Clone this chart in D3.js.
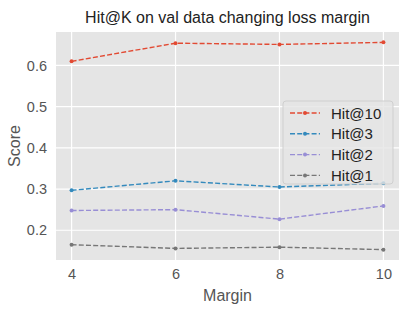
<!DOCTYPE html>
<html>
<head>
<meta charset="utf-8">
<script src="https://cdn.jsdelivr.net/npm/d3@7"></script>
<style>
  body { margin: 0; background: #fff; }
  text { font-family: "Liberation Sans", Arial, sans-serif; }
</style>
</head>
<body>
<div id="chart"></div>
<script>
// data
const margins = [4, 6, 8, 10];
const hit10 = [0.610, 0.654, 0.651, 0.656];
const hit3 = [0.297, 0.320, 0.305, 0.314];
const hit2 = [0.248, 0.250, 0.227, 0.259];
const hit1 = [0.165, 0.156, 0.159, 0.153];
const seriesNames = ['Hit@10', 'Hit@3', 'Hit@2', 'Hit@1'];
const seriesColors = ['#E24A33', '#348ABD', '#988ED5', '#777777'];
const yTicks = [0.2, 0.3, 0.4, 0.5, 0.6];

const width = 417, height = 312;
const plot = {left: 56, right: 399, top: 32, bottom: 260};
const fontFam = '"Liberation Sans", Arial, sans-serif';

const svg = d3.select('#chart').append('svg')
  .attr('width', width).attr('height', height);

const series = [hit10, hit3, hit2, hit1].map((vals, i) => ({
  name: seriesNames[i], color: seriesColors[i],
  values: vals.map((v, j) => ({x: margins[j], y: v}))
}));

// scales (matplotlib style 5% padding)
const allY = [].concat(hit10, hit3, hit2, hit1);
const yMin = d3.min(allY), yMax = d3.max(allY), yPad = (yMax - yMin) * 0.05;
const x = d3.scaleLinear().domain([3.7, 10.3]).range([plot.left, plot.right]);
const y = d3.scaleLinear().domain([yMin - yPad, yMax + yPad]).range([plot.bottom, plot.top]);

// background
svg.append('rect')
  .attr('x', plot.left).attr('y', plot.top)
  .attr('width', plot.right - plot.left).attr('height', plot.bottom - plot.top)
  .attr('fill', '#E5E5E5');

// grid
svg.append('g').selectAll('line').data(yTicks).join('line')
  .attr('x1', plot.left).attr('x2', plot.right)
  .attr('y1', d => y(d)).attr('y2', d => y(d))
  .attr('stroke', '#fff').attr('stroke-width', 1.2);
svg.append('g').selectAll('line').data(margins).join('line')
  .attr('x1', d => x(d)).attr('x2', d => x(d))
  .attr('y1', plot.top).attr('y2', plot.bottom)
  .attr('stroke', '#fff').attr('stroke-width', 1.2);

// axes
const yAxis = svg.append('g')
  .attr('transform', `translate(${plot.left},0)`)
  .call(d3.axisLeft(y).tickValues(yTicks).tickFormat(d3.format('.1f')).tickSize(0).tickPadding(9));
yAxis.select('.domain').remove();
yAxis.selectAll('text').attr('fill', '#555').attr('font-size', '14.5px')
  .attr('font-family', fontFam);

const xAxis = svg.append('g')
  .attr('transform', `translate(0,${plot.bottom})`)
  .call(d3.axisBottom(x).tickValues(margins).tickFormat(d3.format('d')).tickSize(0).tickPadding(9));
xAxis.select('.domain').remove();
xAxis.selectAll('text').attr('fill', '#555').attr('font-size', '14.5px')
  .attr('font-family', fontFam);

// labels
svg.append('text').text('Hit@K on val data changing loss margin')
  .attr('x', (plot.left + plot.right) / 2).attr('y', 23)
  .attr('text-anchor', 'middle').attr('font-size', '16px').attr('fill', '#222');
svg.append('text').text('Margin')
  .attr('x', (plot.left + plot.right) / 2).attr('y', 301)
  .attr('text-anchor', 'middle').attr('font-size', '16px').attr('fill', '#555');
svg.append('text').text('Score')
  .attr('transform', `translate(20,${(plot.top + plot.bottom) / 2}) rotate(-90)`)
  .attr('text-anchor', 'middle').attr('font-size', '16px').attr('fill', '#555');

// lines
const line = d3.line().x(d => x(d.x)).y(d => y(d.y));
const lines = svg.append('g');
series.forEach(s => {
  lines.append('path').datum(s.values)
    .attr('d', line).attr('fill', 'none')
    .attr('stroke', s.color).attr('stroke-width', 1.4)
    .attr('stroke-dasharray', '5,2.2');
  lines.selectAll(null).data(s.values).join('circle')
    .attr('cx', d => x(d.x)).attr('cy', d => y(d.y)).attr('r', 2)
    .attr('fill', s.color);
});

// legend
const lg = svg.append('g').attr('transform', 'translate(283,101)');
lg.append('rect').attr('width', 110).attr('height', 83).attr('rx', 3)
  .attr('fill', '#E5E5E5').attr('fill-opacity', 0.8)
  .attr('stroke', '#cfcfcf').attr('stroke-width', 1);
series.forEach((s, i) => {
  const g = lg.append('g').attr('transform', `translate(0,${12 + i * 20.8})`);
  g.append('line').attr('x1', 7).attr('x2', 37).attr('y1', 0).attr('y2', 0)
    .attr('stroke', s.color).attr('stroke-width', 1.4).attr('stroke-dasharray', '5,2.2');
  g.append('circle').attr('cx', 22).attr('cy', 0).attr('r', 2).attr('fill', s.color);
  g.append('text').text(s.name).attr('x', 48).attr('y', 5.5)
    .attr('font-size', '15px').attr('fill', '#222');
});
</script>
</body>
</html>
